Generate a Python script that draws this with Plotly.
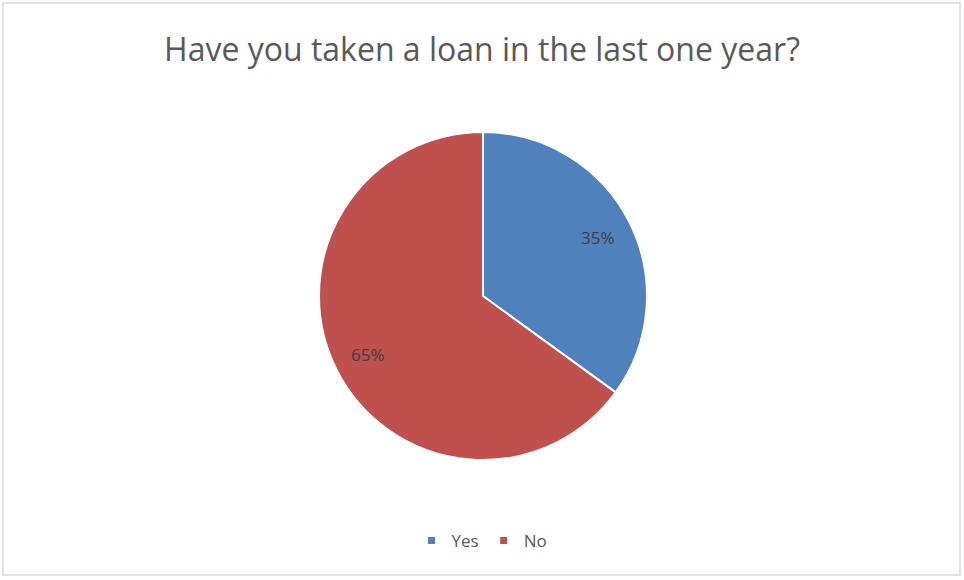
import math
import plotly.graph_objects as go

# Survey response shares
answers = ["Yes", "No"]
shares = [35, 65]
slice_colors = ["#4F81BD", "#C0504D"]

W, H = 964, 580
cx, cy, radius = 483, 296, 164  # pie centre and radius in pixels
FONT = "Open Sans"

fig = go.Figure(
    go.Pie(
        labels=answers,
        values=shares,
        sort=False,
        direction="clockwise",
        rotation=0,
        marker=dict(colors=slice_colors, line=dict(color="white", width=2)),
        textinfo="none",
        showlegend=False,
        domain=dict(x=[(cx - radius) / W, (cx + radius) / W],
                    y=[1 - (cy + radius) / H, 1 - (cy - radius) / H]),
        hoverinfo="label+percent",
    )
)

# Legend entries with small square swatches
for name, col in zip(answers, slice_colors):
    fig.add_trace(go.Scatter(
        x=[None], y=[None], mode="markers", name=name,
        marker=dict(symbol="square", size=7, color=col),
        hoverinfo="skip",
    ))

# Percentage labels placed along each slice's bisector
total = sum(shares)
annotations = []
start = 0.0
for val in shares:
    mid = (start + val / 2) / total * 2 * math.pi
    start += val
    dist = 0.79 * radius
    px = cx + dist * math.sin(mid)
    py = cy - dist * math.cos(mid)
    annotations.append(dict(
        x=px / W, y=1 - py / H, xref="paper", yref="paper",
        text=f"{round(val / total * 100)}%", showarrow=False,
        font=dict(family=FONT, size=17, color="#404040"),
    ))

fig.update_layout(
    width=W,
    height=H,
    margin=dict(l=0, r=0, t=0, b=0),
    paper_bgcolor="white",
    plot_bgcolor="white",
    xaxis=dict(visible=False),
    yaxis=dict(visible=False),
    title=dict(
        text="Have you taken a loan in the last one year?",
        x=0.5,
        xanchor="center",
        y=1 - 50 / H,
        yanchor="middle",
        font=dict(family=FONT, size=32, color="#595959"),
    ),
    legend=dict(
        orientation="h",
        x=0.5,
        xanchor="center",
        y=1 - 541 / H,
        yanchor="middle",
        font=dict(family=FONT, size=17, color="#595959"),
        itemwidth=30,
        itemsizing="trace",
    ),
    annotations=annotations,
    shapes=[
        dict(
            type="rect",
            xref="paper",
            yref="paper",
            x0=3 / W,
            x1=960 / W,
            y0=1 - 575 / H,
            y1=1 - 3 / H,
            line=dict(color="#D9D9D9", width=1.5),
        )
    ],
)

fig.write_html("out.html")
